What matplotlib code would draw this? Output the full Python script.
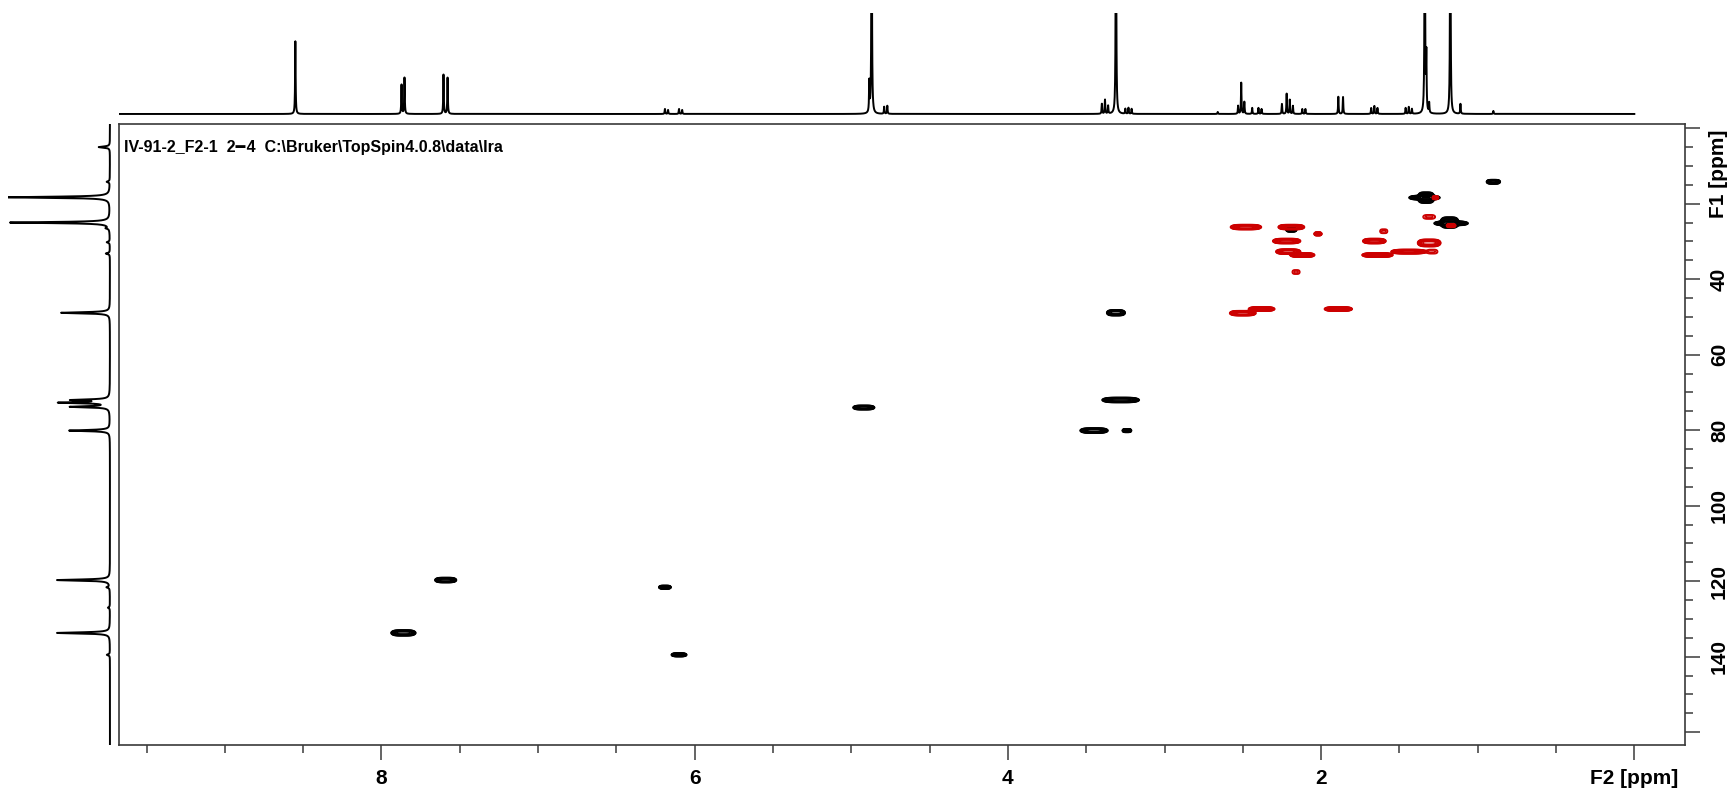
import numpy as np
import matplotlib
matplotlib.use('Agg')
import matplotlib.pyplot as plt
from matplotlib.ticker import FixedLocator, FixedFormatter, MultipleLocator
import matplotlib.transforms as mtransforms

plt.rcParams['font.family'] = ['Liberation Sans', 'DejaVu Sans']
plt.rcParams['font.weight'] = 'bold'

title = 'IV-91-2_F2-1  2\u2501\u200a4  C:\\Bruker\\TopSpin4.0.8\\data\\Ira'

# 1H projection (F2): shift in ppm, height (1 = top of the strip)
h_shift = [8.55, 7.872, 7.853, 7.604, 7.578, 6.19, 6.17, 6.10, 6.08,
           4.885, 4.870, 4.79, 4.77, 3.40, 3.38, 3.36, 3.310, 3.25, 3.23, 3.21,
           2.66, 2.53, 2.51, 2.49, 2.44, 2.40, 2.38, 2.25, 2.22, 2.20, 2.18, 2.12, 2.10,
           1.89, 1.86, 1.68, 1.66, 1.64, 1.46, 1.44, 1.42, 1.338, 1.328, 1.31,
           1.175, 1.11, 0.90]
h_height = [0.72, 0.29, 0.36, 0.39, 0.36, 0.05, 0.04, 0.05, 0.04,
            0.30, 3.0, 0.07, 0.08, 0.10, 0.14, 0.08, 3.0, 0.05, 0.06, 0.05,
            0.02, 0.08, 0.31, 0.12, 0.06, 0.06, 0.05, 0.10, 0.20, 0.14, 0.08, 0.05, 0.05,
            0.17, 0.17, 0.06, 0.08, 0.06, 0.06, 0.07, 0.05, 3.0, 0.55, 0.10,
            3.0, 0.10, 0.03]

# 13C projection (F1): shift in ppm, height (1 = tallest line)
c_shift = [5.0, 14.2, 18.3, 25.0, 26.5, 30.2, 33.2, 48.9, 72.0, 72.7, 73.8, 80.1,
           119.7, 121.6, 127.0, 133.7, 139.5]
c_height = [0.11, 0.03, 1.0, 0.98, 0.03, 0.03, 0.04, 0.48, 0.36, 0.48, 0.38, 0.40,
            0.52, 0.03, 0.02, 0.52, 0.03]

# HSQC cross peaks: F2 / F1 shift, half widths (ppm), signed intensity
pk_f2 = [0.90, 1.34, 1.33, 1.17, 1.18, 2.19, 3.31, 3.28, 3.45, 3.24, 4.92, 7.59, 7.86, 6.19, 6.10,
         2.48, 2.19, 2.02, 1.60, 2.22, 1.66, 1.31, 2.21, 2.12, 1.64, 1.44, 1.29, 1.31, 2.16,
         2.50, 2.38, 1.89, 1.27, 1.17]
pk_f1 = [14.2, 18.4, 18.4, 25.2, 25.0, 26.9, 48.9, 72.0, 80.1, 80.1, 74.0, 119.7, 133.7, 121.6, 139.5,
         26.2, 26.2, 28.0, 27.3, 29.9, 29.9, 30.4, 32.7, 33.6, 33.6, 32.7, 32.7, 23.5, 38.1,
         49.0, 47.9, 47.9, 18.4, 25.8]
pk_w2 = [0.045, 0.10, 0.055, 0.11, 0.06, 0.035, 0.06, 0.12, 0.09, 0.03, 0.07, 0.07, 0.08, 0.04, 0.05,
         0.10, 0.085, 0.025, 0.025, 0.09, 0.075, 0.075, 0.08, 0.08, 0.10, 0.115, 0.035, 0.04, 0.025,
         0.085, 0.085, 0.09, 0.02, 0.03]
pk_w1 = [0.6, 0.6, 1.5, 0.6, 1.5, 0.6, 0.8, 0.7, 0.7, 0.5, 0.6, 0.7, 0.8, 0.5, 0.5,
         0.7, 0.7, 0.5, 0.6, 0.7, 0.7, 1.0, 0.7, 0.6, 0.6, 0.6, 0.6, 0.6, 0.6,
         0.7, 0.6, 0.6, 0.5, 0.5]
pk_amp = [1, 1, 1, 1, 1, 1, 1, 1, 1, 1, 1, 1, 1, 1, 1,
          -1, -1, -1, -0.1, -1, -1, -1, -1, -1, -1, -1, -0.1, -0.1, -0.1,
          -1, -1, -1, -1, -1]

f2_lim = (9.674, -0.324)
f1_lim = (163.4, -1.1)
thr = 0.05

# 2D spectrum on a grid
xg = np.linspace(-0.4, 9.8, 3200)
yg = np.linspace(-2, 165, 1100)
pos = np.zeros((len(yg), len(xg)))
neg = np.zeros((len(yg), len(xg)))
for x0, y0, w2, w1, a in zip(pk_f2, pk_f1, pk_w2, pk_w1, pk_amp):
    k = np.log(abs(a) / thr)
    gx = np.exp(-k * ((xg - x0) / w2) ** 4)
    gy = np.exp(-k * ((yg - y0) / w1) ** 2)
    if a > 0:
        pos += a * np.outer(gy, gx)
    else:
        neg += -a * np.outer(gy, gx)

# 1D projections as sums of Lorentzian lines
hx = np.linspace(0, 9.67, 16000)
hy = np.zeros_like(hx)
for s, h in zip(h_shift, h_height):
    hy += h / (1 + ((hx - s) / 0.002) ** 2)

cy = np.linspace(-1.1, 163.4, 9000)
cx = np.zeros_like(cy)
for s, h in zip(c_shift, c_height):
    cx += h / (1 + ((cy - s) / 0.18) ** 2)

fig = plt.figure(figsize=(17.32, 7.92), dpi=100)
ax = fig.add_axes([0.0689, 0.0593, 0.9040, 0.7841])
levels = np.geomspace(thr, 2.5, 14)
ax.contour(xg, yg, pos, levels=levels, colors='black', linewidths=0.9)
ax.contour(xg, yg, neg, levels=levels, colors='#cc0000', linewidths=0.9)
ax.set_xlim(*f2_lim)
ax.set_ylim(*f1_lim)

frame_col = '#3a3a3a'
for sp in ax.spines.values():
    sp.set_color(frame_col)
    sp.set_linewidth(1.2)

ax.yaxis.tick_right()
ax.xaxis.set_major_locator(FixedLocator([8, 6, 4, 2, 0]))
ax.xaxis.set_major_formatter(FixedFormatter(['8', '6', '4', '2', 'F2 [ppm]']))
ax.xaxis.set_minor_locator(MultipleLocator(0.5))
y_major = [0, 20, 40, 60, 80, 100, 120, 140, 160]
ax.yaxis.set_major_locator(FixedLocator(y_major))
ax.yaxis.set_major_formatter(FixedFormatter(['', '', '40', '60', '80', '100', '120', '140', '']))
ax.yaxis.set_minor_locator(MultipleLocator(5))
ax.tick_params(which='major', direction='out', length=11, width=1.1, color=frame_col,
               labelsize=15, pad=6)
ax.tick_params(which='minor', direction='out', length=6, width=1.1, color=frame_col)
ax.tick_params(axis='y', pad=7)
for lab in ax.get_yticklabels():
    lab.set_rotation(90)
    lab.set_va('center')
    lab.set_fontweight('bold')
for lab in ax.get_xticklabels():
    lab.set_fontweight('bold')

# F1 axis name sits beside the upper end of the scale, past the tick marks
trans = mtransforms.blended_transform_factory(ax.transAxes, ax.transData)
trans = trans + mtransforms.ScaledTranslation(17 / 72, 0, fig.dpi_scale_trans)
ax.text(1.0, 12, 'F1 [ppm]', transform=trans, rotation=90, ha='left', va='center',
        fontsize=15, fontweight='bold')
ax.text(0.003, 0.975, title, transform=ax.transAxes, ha='left', va='top',
        fontsize=11.5, fontweight='bold')

# 1H trace above
axt = fig.add_axes([0.0689, 1 - 117 / 792, 0.9040, 104 / 792])
axt.plot(hx, hy, color='black', lw=1.4)
axt.set_xlim(*f2_lim)
axt.set_ylim(-0.03, 1.0)
axt.axis('off')

# 13C trace at the left
axl = fig.add_axes([8 / 1732, 0.0593, 105 / 1732, 0.7841])
axl.plot(cx, cy, color='black', lw=1.4)
axl.set_xlim(1.0, -0.03)
axl.set_ylim(*f1_lim)
axl.axis('off')

fig.savefig('out.png', dpi=100)
